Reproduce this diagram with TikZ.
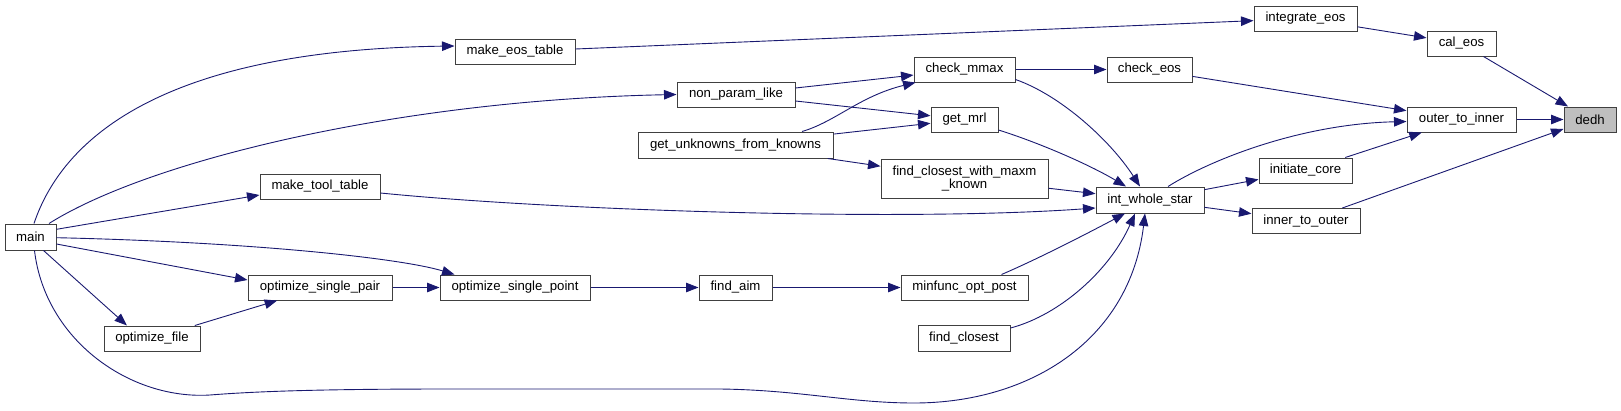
\documentclass[tikz,border=0pt]{standalone}
\usepackage{fontspec}
\setmainfont{Liberation Sans}
\usetikzlibrary{arrows.meta,calc}
\definecolor{edgecol}{HTML}{191970}
\definecolor{boxcol}{HTML}{404040}
\definecolor{hlfill}{HTML}{BFBFBF}
\begin{document}
\begin{tikzpicture}[x=1pt,y=-1pt,
  box/.style={draw=boxcol,line width=1pt,fill=white,rectangle,inner sep=0pt,
    minimum height=25pt,font=\fontsize{13.2}{13.4}\selectfont,align=center},
  hl/.style={box,fill=hlfill},
  edge/.style={draw=edgecol,line width=0.9pt,-{Triangle[length=12.5pt,width=9.5pt]}}]
\useasboundingbox (0,0) rectangle (1621,410);
% nodes
\node[hl,minimum width=52pt] (dedh) at (1590,119.5) {dedh};
\node[box,minimum width=109pt] (outer) at (1461.5,119.5) {outer\_to\_inner};
\node[box,minimum width=69pt] (caleos) at (1461.5,43.5) {cal\_eos};
\node[box,minimum width=103pt] (integrate) at (1305.5,18.5) {integrate\_eos};
\node[box,minimum width=93pt] (initiate) at (1305.5,170.5) {initiate\_core};
\node[box,minimum width=108pt] (innerout) at (1306,221) {inner\_to\_outer};
\node[box,minimum width=85pt] (checkeos) at (1149.5,69.5) {check\_eos};
\node[box,minimum width=108pt,minimum height=26pt] (intws) at (1150,200) {int\_whole\_star};
\node[box,minimum width=101pt] (checkmmax) at (964.5,69.5) {check\_mmax};
\node[box,minimum width=67pt] (getmrl) at (964.5,119.5) {get\_mrl};
\node[box,minimum width=167pt,minimum height=39pt] (fcwmk) at (964.5,178.5) {find\_closest\_with\_maxm\\\_known};
\node[box,minimum width=118pt] (nonparam) at (736,94.5) {non\_param\_like};
\node[box,minimum width=195pt,minimum height=26pt] (getunk) at (735.5,145) {get\_unknowns\_from\_knowns};
\node[box,minimum width=120pt] (maketool) at (320,186.5) {make\_tool\_table};
\node[box,minimum width=120pt] (makeeos) at (515,51.5) {make\_eos\_table};
\node[box,minimum width=51pt,minimum height=26pt] (main) at (30.5,237) {main};
\node[box,minimum width=144pt] (osp) at (320,287.5) {optimize\_single\_pair};
\node[box,minimum width=150pt] (ospt) at (515,287.5) {optimize\_single\_point};
\node[box,minimum width=96pt] (ofile) at (152,338.5) {optimize\_file};
\node[box,minimum width=73pt] (findaim) at (735.5,287.5) {find\_aim};
\node[box,minimum width=127pt] (minfunc) at (964.5,287.5) {minfunc\_opt\_post};
\node[box,minimum width=92pt,minimum height=26pt] (findclosest) at (964,338) {find\_closest};
% edges
\draw[edge] (caleos) -- (dedh);
\draw[edge] (outer) -- (dedh);
\draw[edge] (innerout) -- (dedh);
\draw[edge] (integrate) -- (caleos);
\draw[edge] (makeeos) -- (integrate);
\draw[edge] ($(main.north)+(3.5,0)$) .. controls (62,140) and (160,50) .. ($(makeeos.west)+(0,-5.5)$);
\draw[edge] (checkeos) -- (outer);
\draw[edge] ($(intws.north)+(18,0)$) .. controls (1210,160) and (1300,124) .. ($(outer.west)+(0,2)$);
\draw[edge] (initiate) -- (outer);
\draw[edge] (intws) -- (initiate);
\draw[edge] (intws) -- (innerout);
\draw[edge] (checkmmax) -- (checkeos);
\draw[edge] ($(checkmmax.east)+(0,10)$) .. controls (1060,95) and (1110,140) .. ($(intws.north)+(-10,0)$);
\draw[edge] ($(getmrl.east)+(0,10.5)$) .. controls (1040,143) and (1090,165) .. ($(intws.north)+(-24,0)$);
\draw[edge] (fcwmk) -- (intws);
\draw[edge] ($(maketool.east)+(0,6.5)$) .. controls (550,210) and (900,222) .. ($(intws.west)+(0,8)$);
\draw[edge] (nonparam) -- (checkmmax);
\draw[edge] (nonparam) -- (getmrl);
\draw[edge] ($(getunk.north)+(66.5,0)$) .. controls (835,122) and (860,96) .. ($(checkmmax.south west)+(2,0)$);
\draw[edge] (getunk) -- (getmrl);
\draw[edge] (getunk) -- (fcwmk);
\draw[edge] ($(main.north east)+(-7.5,0)$) .. controls (150,160) and (400,100) .. (nonparam.west);
\draw[edge] ($(main.east)+(0,-7.7)$) -- ($(maketool.west)+(0,8.5)$);
\draw[edge] ($(main.east)+(0,0.7)$) .. controls (250,242) and (400,258) .. ($(ospt.north west)+(15,0)$);
\draw[edge] ($(main.east)+(0,7)$) -- ($(osp.west)+(0,-7.5)$);
\draw[edge] ($(main.south)+(13,0)$) -- ($(ofile.north)+(-25,0)$);
\draw[edge] ($(main.south)+(4,0)$) .. controls (45,340) and (130,400) .. (210,395)
  .. controls (260,391) and (330,389) .. (450,389) -- (720,389)
  .. controls (800,390) and (850,403) .. (914,403)
  .. controls (1030,403) and (1130,340) .. ($(intws.south)+(-5,0)$);
\draw[edge] (ofile) -- (osp);
\draw[edge] (osp) -- (ospt);
\draw[edge] (ospt) -- (findaim);
\draw[edge] (findaim) -- (minfunc);
\draw[edge] ($(minfunc.north)+(37,0)$) .. controls (1040,258) and (1090,232) .. ($(intws.south)+(-25,0)$);
\draw[edge] ($(findclosest.east)+(0,-10)$) .. controls (1060,315) and (1110,270) .. ($(intws.south)+(-15,0)$);
\end{tikzpicture}
\end{document}
